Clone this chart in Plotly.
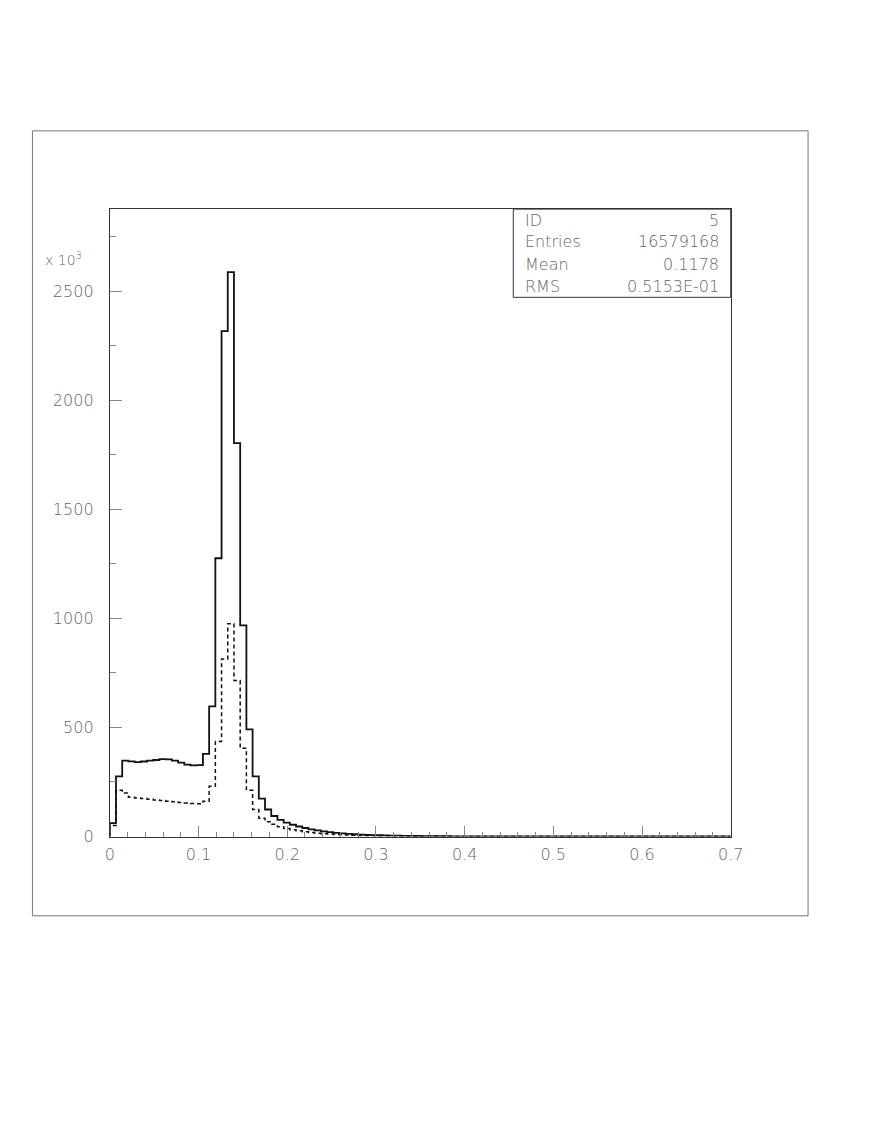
import numpy as np
import plotly.graph_objects as go

# histogram contents in units of 10^3 entries, 100 bins from 0 to 0.7
bin_lo, bin_hi, n_bins = 0.0, 0.7, 100

solid_counts = [
    61, 276, 348, 345, 341, 344, 348, 351, 355, 354,
    348, 339, 330, 326, 327, 379, 597, 1276, 2318, 2588,
    1804, 968, 491, 276, 174, 124, 94, 76, 64, 54,
    46, 39, 33, 28, 24, 20, 17, 14.5, 12.5, 10.5,
    9, 7.8, 6.7, 5.8, 5, 4.3, 3.7, 3.2, 2.8, 2.4,
    2.1, 1.8, 1.6, 1.4, 1.2, 1.05, 0.9, 0.8, 0.7, 0.6,
    0.52, 0.45, 0.4, 0.35, 0.3, 0.26, 0.23, 0.2, 0.18, 0.16,
    0.14, 0.12, 0.11, 0.1, 0.09, 0.08, 0.07, 0.06, 0.055, 0.05,
    0.045, 0.04, 0.036, 0.032, 0.03, 0.027, 0.024, 0.022, 0.02, 0.018,
    0.016, 0.015, 0.014, 0.013, 0.012, 0.011, 0.01, 0.009, 0.008, 0.007,
]

dashed_counts = [
    50, 212, 200, 180, 177, 174, 171, 168, 165, 162,
    159, 156, 154, 151, 150, 162, 230, 436, 814, 976,
    715, 405, 212, 124, 84, 68, 56, 45, 37, 31,
    26, 22, 18.5, 15.5, 13, 11, 9.3, 7.8, 6.6, 5.6,
    4.7, 4, 3.4, 2.9, 2.5, 2.1, 1.8, 1.5, 1.3, 1.1,
    0.95, 0.8, 0.7, 0.6, 0.5, 0.43, 0.37, 0.32, 0.28, 0.24,
    0.21, 0.18, 0.16, 0.14, 0.12, 0.1, 0.09, 0.08, 0.07, 0.06,
    0.055, 0.05, 0.045, 0.04, 0.035, 0.03, 0.027, 0.024, 0.021, 0.019,
    0.017, 0.015, 0.013, 0.012, 0.011, 0.01, 0.009, 0.008, 0.007, 0.006,
    0.005, 0.005, 0.004, 0.004, 0.003, 0.003, 0.002, 0.002, 0.002, 0.001,
]

stats_labels = ["ID", "Entries", "Mean", "RMS"]
stats_values = ["5", "16579168", "0.1178", "0.5153E-01"]

# reference page size; positions below are given in these pixels
W, H = 872, 1128
edges = np.linspace(bin_lo, bin_hi, n_bins + 1)


def step_xy(counts):
    # hv step outline starting from the axis
    xs = [edges[0]] + list(edges[:-1]) + [edges[-1]]
    ys = [0] + list(counts) + [counts[-1]]
    return xs, ys


def px(x):
    return x / W


def py(y):
    return 1 - y / H


fig = go.Figure()

xs, ys = step_xy(dashed_counts)
fig.add_trace(go.Scatter(x=xs, y=ys, mode="lines", line_shape="hv",
                         line=dict(color="#111", width=1.5, dash="4px,3px"),
                         hoverinfo="skip"))
xs, ys = step_xy(solid_counts)
fig.add_trace(go.Scatter(x=xs, y=ys, mode="lines", line_shape="hv",
                         line=dict(color="#111", width=1.8),
                         hoverinfo="skip"))

tick_font = dict(family="DejaVu Sans", size=16, color="#666", weight=200)

fig.update_xaxes(
    domain=[px(107), px(741)], range=[bin_lo, bin_hi],
    showline=True, linecolor="#333", linewidth=1, mirror=True,
    showgrid=False, zeroline=False,
    ticks="inside", ticklen=11, tickcolor="#888", dtick=0.1,
    minor=dict(ticks="inside", ticklen=5, dtick=0.02, tickcolor="#888", showgrid=False),
    tickfont=tick_font, ticklabelstandoff=3,
)
fig.update_yaxes(
    domain=[py(844), py(211)], range=[0, 2877],
    showline=True, linecolor="#333", linewidth=1, mirror=True,
    showgrid=False, zeroline=False,
    ticks="inside", ticklen=12, tickcolor="#888", dtick=500,
    minor=dict(ticks="inside", ticklen=6, dtick=250, tickcolor="#888", showgrid=False),
    tickfont=tick_font, ticklabelstandoff=12,
)

shapes = [
    # outer page frame
    dict(type="rect", xref="paper", yref="paper", x0=px(28), x1=px(820), y0=py(924), y1=py(132),
         line=dict(color="#777", width=1)),
    # statistics box
    dict(type="rect", xref="paper", yref="paper", x0=px(519), x1=px(741), y0=py(300), y1=py(211),
         line=dict(color="#333", width=1), fillcolor="white"),
]

stat_font = dict(family="DejaVu Sans", size=16, color="#666", weight=200)
annotations = []
row_y = [222, 244, 267, 289]
for lab, val, yy in zip(stats_labels, stats_values, row_y):
    annotations.append(dict(xref="paper", yref="paper", x=px(529), y=py(yy), text=lab,
                            xanchor="left", yanchor="middle", showarrow=False, font=stat_font))
    annotations.append(dict(xref="paper", yref="paper", x=px(731), y=py(yy), text=val,
                            xanchor="right", yanchor="middle", showarrow=False, font=stat_font))

annotations.append(dict(xref="paper", yref="paper", x=px(81), y=py(261), text="x 10<sup>3</sup>",
                        xanchor="right", yanchor="middle", showarrow=False,
                        font=dict(family="DejaVu Sans", size=14, color="#666", weight=200)))

fig.update_layout(
    autosize=True,
    margin=dict(l=0, r=0, t=0, b=0),
    paper_bgcolor="white", plot_bgcolor="white",
    showlegend=False,
    shapes=shapes, annotations=annotations,
)

fig.write_html(
    "out.html",
    config={"displayModeBar": False, "responsive": True},
    default_width="100vw", default_height="100vh",
    post_script="document.body.style.margin='0';document.body.style.overflow='hidden';"
                "document.documentElement.style.overflow='hidden';"
                "Plotly.Plots.resize(document.getElementById('{plot_id}'));",
)
